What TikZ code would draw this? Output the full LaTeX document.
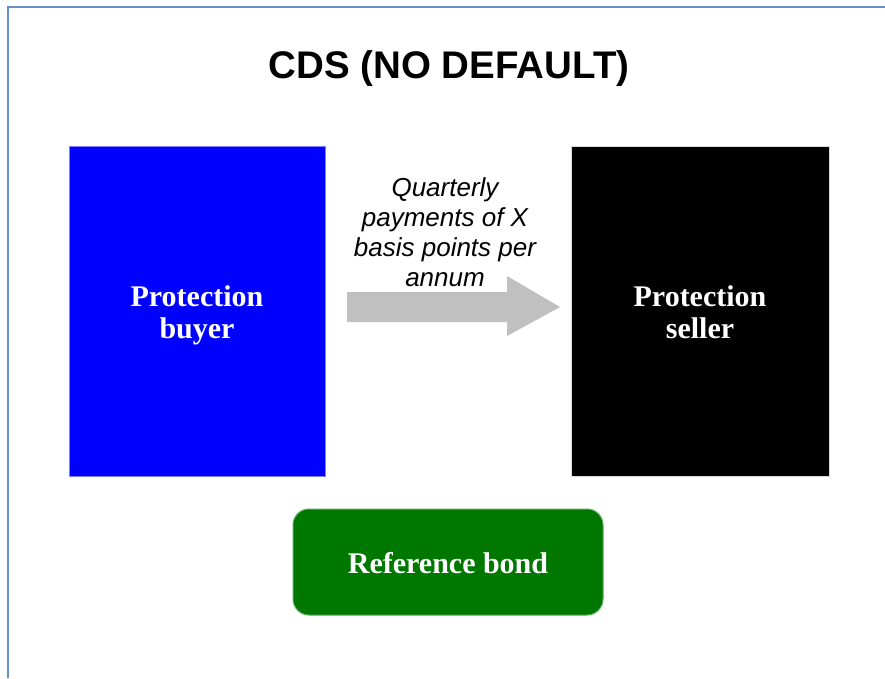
\documentclass[tikz,border=0pt]{standalone}
\usepackage{fontspec}
\usetikzlibrary{calc}
\setmainfont{Liberation Serif}
\newfontfamily\arialfont{Liberation Sans}
\definecolor{framecol}{RGB}{96,144,200}
\definecolor{bondgreen}{RGB}{0,120,0}
\definecolor{bondedge}{RGB}{90,170,90}
\definecolor{arrowgray}{RGB}{192,192,192}
\definecolor{buyeredge}{RGB}{128,128,255}
\tikzset{
  partybox/.style={minimum width=256pt, minimum height=330pt, inner sep=0pt, outer sep=0pt},
  boxtext/.style={text=white, font=\fontsize{30}{32}\selectfont\bfseries, align=center, inner sep=0pt},
}
\begin{document}
\begin{tikzpicture}[x=1pt,y=-1pt]
\useasboundingbox (0,0) rectangle (885,678);
\fill[white] (0,0) rectangle (885,678);
% frame (only top and left edges visible)
\draw[framecol, line width=2pt] (8,678) -- (8,7) -- (885,7);
% title
\node[font=\arialfont\bfseries\fontsize{38.5}{42}\selectfont, inner sep=0pt] (title) at (449,69) {CDS (NO DEFAULT)};
% boxes
\node[partybox, fill=blue, draw=buyeredge, line width=1pt] (buyer) at (197,311) {};
\node[boxtext] (buyertext) at ($(buyer.center)+(0,4)$) {Protection\\buyer};
\node[partybox, minimum width=258pt, fill=black, draw=black!15, line width=1pt] (seller) at (700,311) {};
\node[boxtext] (sellertext) at ($(seller.center)+(0,1)$) {Protection\\seller};
\node[fill=bondgreen, draw=bondedge, line width=1pt, rounded corners=16pt, minimum width=310pt, minimum height=106pt, inner sep=0pt] (bond) at (448,562) {};
\node[text=white, font=\fontsize{30}{32}\selectfont\bfseries, inner sep=0pt] (bondtext) at ($(bond.center)+(0,1)$) {Reference bond};
% arrow
\coordinate (atail) at (347,307);
\coordinate (atip) at (560,307);
\fill[arrowgray] ($(atail)+(0,-15)$) -- ($(atip)+(-53,-15)$) -- ($(atip)+(-53,-31)$) -- (atip) -- ($(atip)+(-53,29)$) -- ($(atip)+(-53,15)$) -- ($(atail)+(0,15)$) -- cycle;
\node[font=\arialfont\itshape\fontsize{26}{30}\selectfont, align=center, inner sep=0pt] (label) at (445,232) {Quarterly\\payments of X\\basis points per\\annum};
\end{tikzpicture}
\end{document}
